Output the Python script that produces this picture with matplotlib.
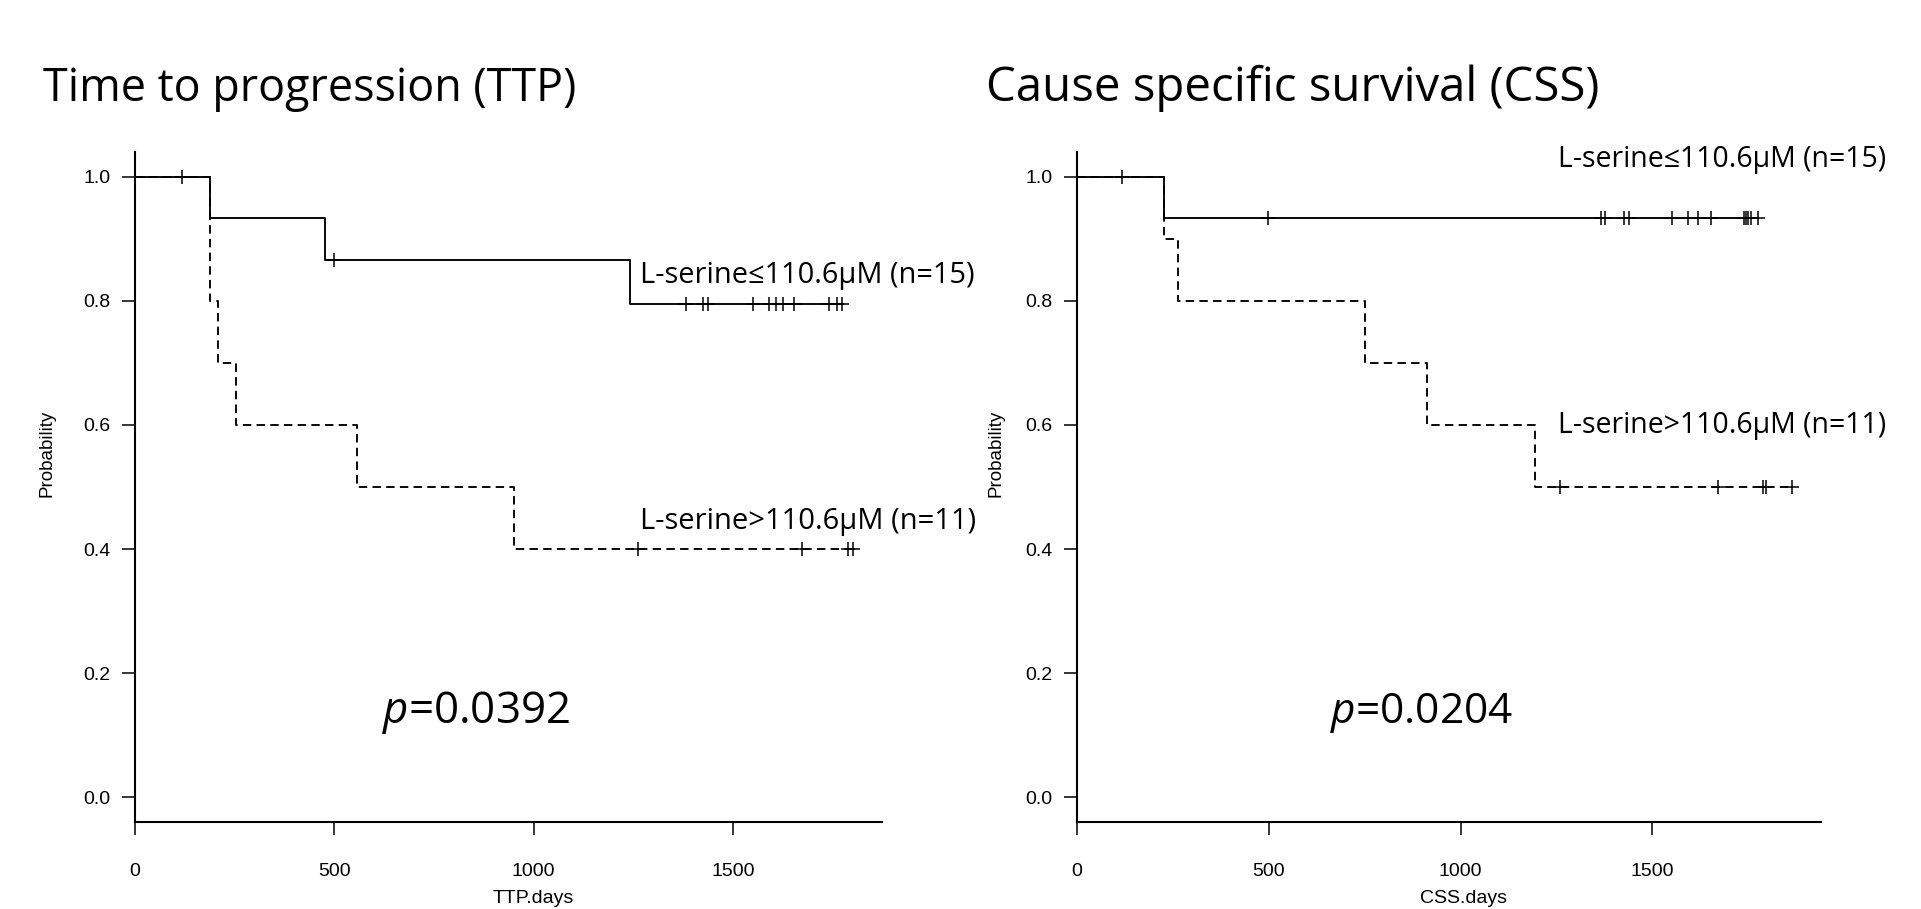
import numpy as np
import matplotlib
matplotlib.use("Agg")
import matplotlib.pyplot as plt

# ---------------- data ----------------
ttp_low_time = [189, 476, 498, 1242, 1383, 1425, 1437, 1550, 1591, 1609, 1626, 1653, 1742, 1760, 1774]
ttp_low_event = [1, 1, 0, 1, 0, 0, 0, 0, 0, 0, 0, 0, 0, 0, 0]
ttp_high_time = [117, 189, 189, 209, 254, 557, 951, 1261, 1674, 1790, 1802]
ttp_high_event = [0, 1, 1, 1, 1, 1, 1, 0, 0, 0, 0]

css_low_time = [226, 497, 1365, 1376, 1426, 1439, 1550, 1592, 1620, 1652, 1738, 1743, 1750, 1758, 1776]
css_low_event = [1, 0, 0, 0, 0, 0, 0, 0, 0, 0, 0, 0, 0, 0, 0]
css_high_time = [117, 226, 263, 752, 913, 1194, 1260, 1672, 1789, 1797, 1865]
css_high_event = [0, 1, 1, 1, 1, 1, 0, 0, 0, 0, 0]

titles = ["Time to progression (TTP)", "Cause specific survival (CSS)"]
xlabels = ["TTP.days", "CSS.days"]
p_values = ["0.0392", "0.0204"]
label_low = "L-serine\u2264110.6\u03bcM (n=15)"
label_high = "L-serine>110.6\u03bcM (n=11)"
xticks = [0, 500, 1000, 1500]
yticks = [0.0, 0.2, 0.4, 0.6, 0.8, 1.0]

# ---------------- helpers ----------------
def km(t, e):
    t = np.asarray(t, float)
    e = np.asarray(e, int)
    xs, ys, s = [0.0], [1.0], 1.0
    ct, cs = [], []
    for u in np.unique(t):
        n = np.sum(t >= u)
        d = np.sum((t == u) & (e == 1))
        if d > 0:
            s *= (n - d) / n
            xs.append(u)
            ys.append(s)
        c = np.sum((t == u) & (e == 0))
        if c > 0:
            ct += [u] * c
            cs += [s] * c
    xs.append(t.max())
    ys.append(s)
    return xs, ys, ct, cs

plt.rcParams["mathtext.fontset"] = "custom"
plt.rcParams["mathtext.it"] = "Open Sans:italic"
plt.rcParams["mathtext.rm"] = "Open Sans"

W, H = 1921, 909
fig = plt.figure(figsize=(W / 100, H / 100), dpi=100)
TXT = ["Open Sans", "DejaVu Sans"]
AXF = ["Liberation Sans", "DejaVu Sans"]

def px(x, y):
    return x / W, (H - y) / H

# axes boxes in pixels: (x0, x1, ytop, ybottom)
boxes = [(135, 882, 152, 822), (1077, 1821, 152, 822)]
datasets = [
    (ttp_low_time, ttp_low_event, ttp_high_time, ttp_high_event),
    (css_low_time, css_low_event, css_high_time, css_high_event),
]
ylabel_x = [-0.107, -0.098]
xlabel_x = [0.533, 0.519]

axes = []
for i, (x0, x1, yt, yb) in enumerate(boxes):
    l, b = px(x0, yb)
    ax = fig.add_axes([l, b, (x1 - x0) / W, (yb - yt) / H])
    axes.append(ax)
    lt, le, ht, he = datasets[i]
    maxt = max(max(lt), max(ht))
    for (t, e, ls) in [(lt, le, "-"), (ht, he, (0, (4.5, 2.8)))]:
        xs, ys, ct, cs = km(t, e)
        ax.step(xs, ys, where="post", color="black", lw=1.35, ls=ls)
        ax.plot(ct, cs, "+", color="black", ms=10.5, mew=1.1, ls="none")
    ax.set_xlim(0, 1.04 * maxt)
    ax.set_ylim(-0.04, 1.04)
    for s in ["top", "right"]:
        ax.spines[s].set_visible(False)
    for s in ["left", "bottom"]:
        ax.spines[s].set_linewidth(1.5)
    ax.set_xticks(xticks)
    ax.set_xticklabels([str(v) for v in xticks], family=AXF, fontsize=14)
    ax.set_yticks(yticks)
    ax.set_yticklabels(["%.1f" % v for v in yticks], family=AXF, fontsize=14)
    ax.tick_params(axis="both", direction="out", length=9.5, width=1.1)
    ax.tick_params(axis="y", pad=8)
    ax.tick_params(axis="x", pad=20)
    ax.set_ylabel("Probability", family=AXF, fontsize=13.5)
    ax.yaxis.set_label_coords(ylabel_x[i], 0.55)
    ax.set_xlabel(xlabels[i], family=AXF, fontsize=14)
    ax.xaxis.set_label_coords(xlabel_x[i], -0.101)

# ---------------- annotations ----------------
texts = []  # (text obj, target width px)
def add(s, x, y, width, va="center"):
    fx, fy = px(x, y)
    t = fig.text(fx, fy, s, family=TXT, fontsize=20, ha="left", va=va, color="black")
    texts.append((t, width))
    return t

add(titles[0], 43, 101, 533, va="baseline")
add(titles[1], 986, 101, 613, va="baseline")
add(label_low, 640, 276, 335)
add(label_high, 640, 521, 335)
add(label_low, 1558, 159, 330)
add(label_high, 1558, 426, 330)
add("$p$=" + p_values[0], 382, 713, 188)
add("$p$=" + p_values[1], 1330, 713, 183)

for _ in range(2):
    fig.canvas.draw()
    r = fig.canvas.get_renderer()
    for t, w in texts:
        bb = t.get_window_extent(renderer=r)
        t.set_fontsize(t.get_fontsize() * w / bb.width)

fig.savefig("out.png", dpi=100)
